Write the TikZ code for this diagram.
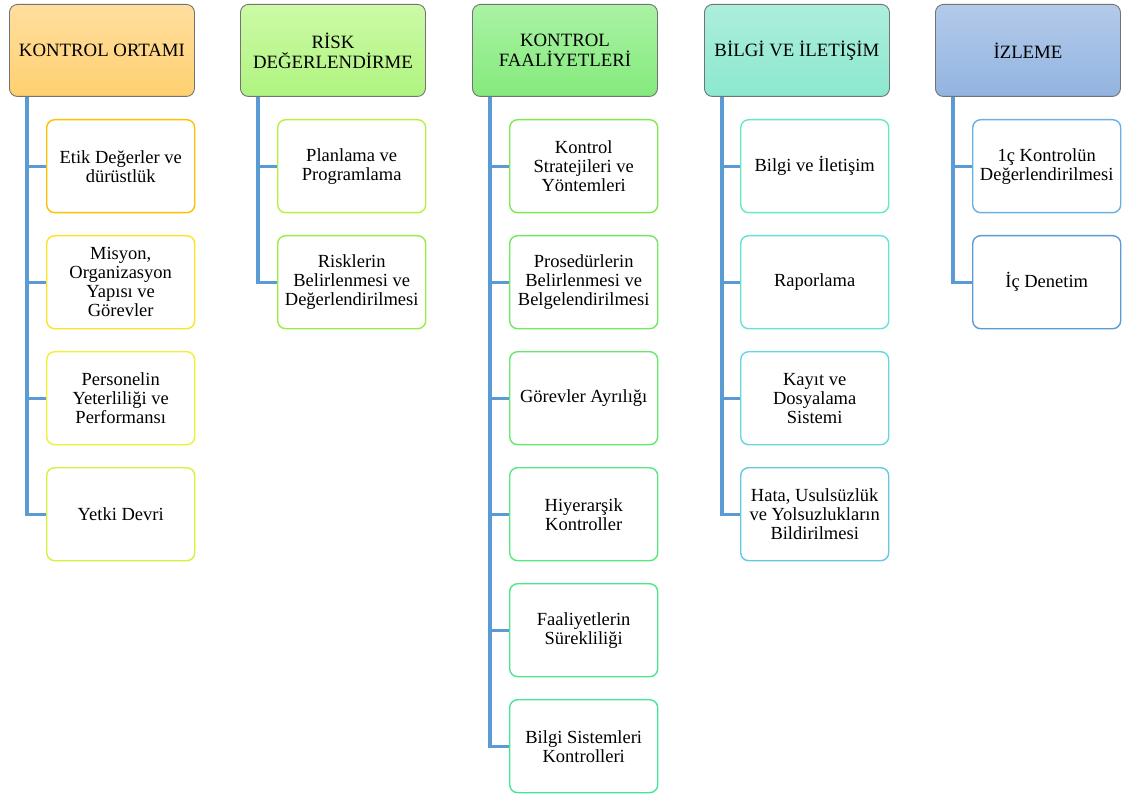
\documentclass[tikz,border=0pt]{standalone}
\usepackage{fontspec}
\setmainfont{Liberation Serif}
\begin{document}
\begin{tikzpicture}[x=1pt,y=-1pt,
  head/.style={draw=black!55, line width=0.9pt, rounded corners=8pt,
    minimum width=185pt, minimum height=92pt, anchor=north west,
    align=center, font=\fontsize{18.8}{20}\selectfont, inner sep=2pt},
  item/.style={draw=#1, line width=1.4pt, rounded corners=8pt, fill=white,
    minimum width=148pt, minimum height=93pt, anchor=north west,
    align=center, font=\fontsize{18.5}{19}\selectfont, inner sep=1pt},
  link/.style={draw=linkblue, line width=3.2pt},
]
\definecolor{linkblue}{RGB}{91,155,213}
% colours of the headers
\definecolor{orT}{RGB}{255,222,158}\definecolor{orB}{RGB}{255,208,112}
\definecolor{rgT}{RGB}{204,250,166}\definecolor{rgB}{RGB}{176,244,128}
\definecolor{kgT}{RGB}{170,242,164}\definecolor{kgB}{RGB}{132,234,124}
\definecolor{bgT}{RGB}{172,238,220}\definecolor{bgB}{RGB}{140,232,208}
\definecolor{izT}{RGB}{180,202,234}\definecolor{izB}{RGB}{146,180,224}
% colours of the item borders
\definecolor{c11}{RGB}{255,192,0}\definecolor{c12}{RGB}{255,226,40}
\definecolor{c13}{RGB}{238,242,48}\definecolor{c14}{RGB}{214,240,60}
\definecolor{c21}{RGB}{184,240,64}\definecolor{c22}{RGB}{152,238,64}
\definecolor{c31}{RGB}{126,232,80}\definecolor{c32}{RGB}{112,232,96}
\definecolor{c33}{RGB}{100,232,110}\definecolor{c34}{RGB}{88,232,128}
\definecolor{c35}{RGB}{76,230,140}\definecolor{c36}{RGB}{70,230,150}
\definecolor{c41}{RGB}{100,232,200}\definecolor{c42}{RGB}{100,226,214}
\definecolor{c43}{RGB}{100,216,226}\definecolor{c44}{RGB}{100,200,228}
\definecolor{c51}{RGB}{106,176,226}\definecolor{c52}{RGB}{91,155,213}

\useasboundingbox (0,0) rectangle (1124,794);

% headers
\node[head, top color=orT, bottom color=orB] (h1) at (9,4) {KONTROL ORTAMI};
\node[head, top color=rgT, bottom color=rgB] (h2) at (240,4) {RİSK\\DEĞERLENDİRME};
\node[head, top color=kgT, bottom color=kgB] (h3) at (472,4) {KONTROL\\FAALİYETLERİ};
\node[head, top color=bgT, bottom color=bgB] (h4) at (704,4) {BİLGİ VE İLETİŞİM};
\node[head, top color=izT, bottom color=izB] (h5) at (935,4) {İZLEME};

% column 1
\node[item=c11] (a1) at (46,119) {Etik Değerler ve\\dürüstlük};
\node[item=c12] (a2) at (46,235) {Misyon,\\Organizasyon\\Yapısı ve\\Görevler};
\node[item=c13] (a3) at (46,351) {Personelin\\Yeterliliği ve\\Performansı};
\node[item=c14] (a4) at (46,467) {Yetki Devri};
% column 2
\node[item=c21] (b1) at (277,119) {Planlama ve\\Programlama};
\node[item=c22] (b2) at (277,235) {Risklerin\\Belirlenmesi ve\\Değerlendirilmesi};
% column 3
\node[item=c31] (k1) at (509,119) {Kontrol\\Stratejileri ve\\Yöntemleri};
\node[item=c32] (k2) at (509,235) {Prosedürlerin\\Belirlenmesi ve\\Belgelendirilmesi};
\node[item=c33] (k3) at (509,351) {Görevler Ayrılığı};
\node[item=c34] (k4) at (509,467) {Hiyerarşik\\Kontroller};
\node[item=c35] (k5) at (509,583) {Faaliyetlerin\\Sürekliliği};
\node[item=c36] (k6) at (509,699) {Bilgi Sistemleri\\Kontrolleri};
% column 4
\node[item=c41] (d1) at (740,119) {Bilgi ve İletişim};
\node[item=c42] (d2) at (740,235) {Raporlama};
\node[item=c43] (d3) at (740,351) {Kayıt ve\\Dosyalama\\Sistemi};
\node[item=c44] (d4) at (740,467) {Hata, Usulsüzlük\\ve Yolsuzlukların\\Bildirilmesi};
% column 5
\node[item=c51] (e1) at (972,119) {1ç Kontrolün\\Değerlendirilmesi};
\node[item=c52] (e2) at (972,235) {İç Denetim};

% connectors
\foreach \h/\list in {h1/{a1,a2,a3,a4}, h2/{b1,b2}, h3/{k1,k2,k3,k4,k5,k6},
                      h4/{d1,d2,d3,d4}, h5/{e1,e2}} {
  \foreach \c in \list {
    \draw[link] ([xshift=18pt]\h.south west) |- (\c.west);
  }
}
\end{tikzpicture}
\end{document}
